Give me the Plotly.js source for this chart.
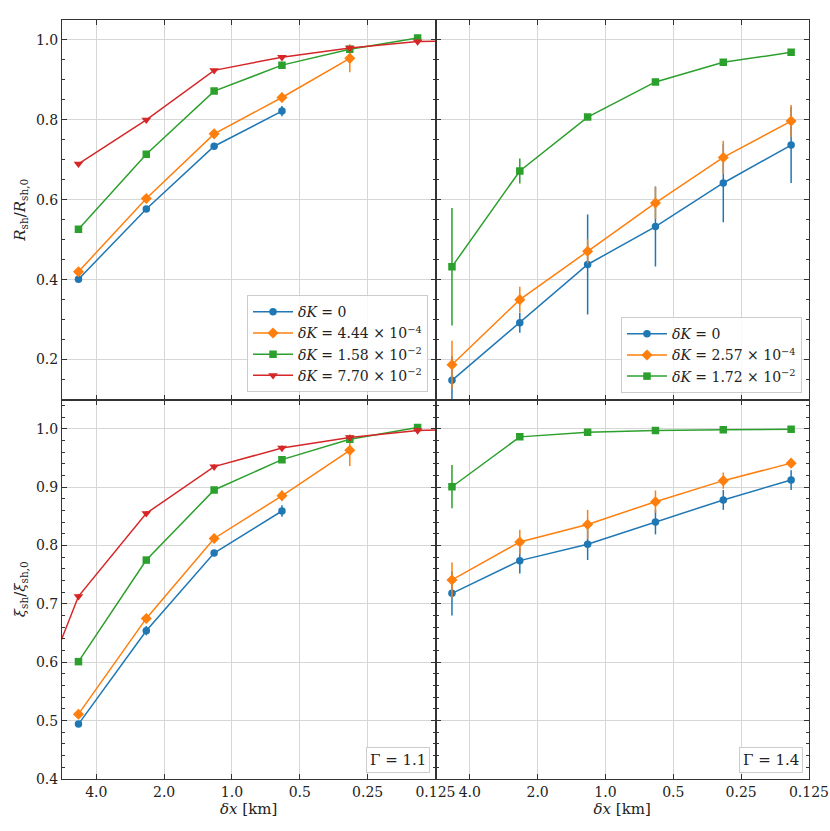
<!DOCTYPE html>
<html>
<head>
<meta charset="utf-8">
<script src="https://cdn.plot.ly/plotly-3.0.1.min.js"></script>
<style>html,body{margin:0;padding:0;background:#fff}#chart{width:830px;height:831px}</style>
</head>
<body>
<div id="chart"></div>
<script>
// ---- data ----
const dx = [4.8, 2.4, 1.2, 0.6, 0.3, 0.15];
const dxRedR = [4.8, 2.4, 1.2, 0.6, 0.3, 0.15, 0.075];
const dxRedXi = [9.6, 4.8, 2.4, 1.2, 0.6, 0.3, 0.15, 0.075];

const xTickVals = [4, 2, 1, 0.5, 0.25, 0.125];
const xTickText = ['4.0', '2.0', '1.0', '0.5', '0.25', '0.125'];

const labels11 = ['<i>δK</i> = 0', '<i>δK</i> = 4.44 × 10<sup>−4</sup>', '<i>δK</i> = 1.58 × 10<sup>−2</sup>', '<i>δK</i> = 7.70 × 10<sup>−2</sup>'];
const labels14 = ['<i>δK</i> = 0', '<i>δK</i> = 2.57 × 10<sup>−4</sup>', '<i>δK</i> = 1.72 × 10<sup>−2</sup>'];

// Gamma = 1.1, R_sh / R_sh,0
const R11_0 = [0.401, 0.577, 0.734, 0.822];
const R11_0e = [0.005, 0.006, 0.008, 0.013];
const R11_1 = [0.420, 0.603, 0.765, 0.856, 0.954];
const R11_1e = [0.006, 0.008, 0.009, 0.012, 0.035];
const R11_2 = [0.526, 0.714, 0.872, 0.937, 0.977, 1.005];
const R11_2e = [0.004, 0.005, 0.005, 0.005, 0.006, 0.008];
const R11_3 = [0.690, 0.800, 0.924, 0.957, 0.980, 0.996, 1.000];
const R11_3e = [0.004, 0.004, 0.004, 0.004, 0.004, 0.006, 0.004];

// Gamma = 1.4, R_sh / R_sh,0
const R14_0 = [0.148, 0.292, 0.438, 0.533, 0.642, 0.737];
const R14_0e = [0.06, 0.025, 0.125, 0.100, 0.098, 0.095];
const R14_1 = [0.187, 0.350, 0.471, 0.592, 0.706, 0.797];
const R14_1e = [0.060, 0.032, 0.030, 0.040, 0.042, 0.040];
const R14_2 = [0.4325, 0.672, 0.807, 0.895, 0.944, 0.969];
const R14_2e = [0.147, 0.031, 0.004, 0.004, 0.004, 0.004];

// Gamma = 1.1, xi_sh / xi_sh,0
const X11_0 = [0.494, 0.654, 0.787, 0.859];
const X11_0e = [0.004, 0.008, 0.005, 0.010];
const X11_1 = [0.511, 0.675, 0.812, 0.885, 0.963];
const X11_1e = [0.005, 0.007, 0.006, 0.009, 0.027];
const X11_2 = [0.601, 0.775, 0.895, 0.947, 0.982, 1.002];
const X11_2e = [0.003, 0.004, 0.004, 0.004, 0.004, 0.006];
const X11_3 = [0.417, 0.713, 0.855, 0.935, 0.967, 0.985, 0.997, 1.000];
const X11_3e = [0.004, 0.004, 0.004, 0.004, 0.004, 0.004, 0.005, 0.004];

// Gamma = 1.4, xi_sh / xi_sh,0
const X14_0 = [0.718, 0.774, 0.802, 0.840, 0.878, 0.912];
const X14_0e = [0.038, 0.022, 0.027, 0.021, 0.017, 0.017];
const X14_1 = [0.741, 0.806, 0.836, 0.875, 0.911, 0.941];
const X14_1e = [0.030, 0.021, 0.025, 0.019, 0.014, 0.006];
const X14_2 = [0.9006, 0.986, 0.994, 0.997, 0.998, 0.999];
const X14_2e = [0.037, 0.003, 0.002, 0.002, 0.002, 0.002];

// ---- styles ----
const colors = ['#1f77b4', '#ff7f0e', '#2ca02c', '#d62728'];
const symbols = ['circle', 'diamond', 'square', 'triangle-down'];
const sizes = [7.5, 8.5, 7.5, 8.5];

function tr(x, y, e, i, xa, ya, name, legend, show) {
  return {
    x: x, y: y, type: 'scatter', mode: 'lines+markers',
    xaxis: xa, yaxis: ya, name: name, legend: legend, showlegend: show,
    line: {color: colors[i], width: 1.5},
    marker: {color: colors[i], symbol: symbols[i], size: sizes[i]},
    error_y: {type: 'data', array: e, visible: true, color: colors[i], thickness: 1.5, width: 0},
    cliponaxis: true
  };
}

const data = [
  tr(dx, R11_0, R11_0e, 0, 'x', 'y', labels11[0], 'legend', true),
  tr(dx, R11_1, R11_1e, 1, 'x', 'y', labels11[1], 'legend', true),
  tr(dx, R11_2, R11_2e, 2, 'x', 'y', labels11[2], 'legend', true),
  tr(dxRedR, R11_3, R11_3e, 3, 'x', 'y', labels11[3], 'legend', true),

  tr(dx, R14_0, R14_0e, 0, 'x2', 'y2', labels14[0], 'legend2', true),
  tr(dx, R14_1, R14_1e, 1, 'x2', 'y2', labels14[1], 'legend2', true),
  tr(dx, R14_2, R14_2e, 2, 'x2', 'y2', labels14[2], 'legend2', true),

  tr(dx, X11_0, X11_0e, 0, 'x3', 'y3', labels11[0], 'legend', false),
  tr(dx, X11_1, X11_1e, 1, 'x3', 'y3', labels11[1], 'legend', false),
  tr(dx, X11_2, X11_2e, 2, 'x3', 'y3', labels11[2], 'legend', false),
  tr(dxRedXi, X11_3, X11_3e, 3, 'x3', 'y3', labels11[3], 'legend', false),

  tr(dx, X14_0, X14_0e, 0, 'x4', 'y4', labels14[0], 'legend2', false),
  tr(dx, X14_1, X14_1e, 1, 'x4', 'y4', labels14[1], 'legend2', false),
  tr(dx, X14_2, X14_2e, 2, 'x4', 'y4', labels14[2], 'legend2', false)
];

const FONT = 'DejaVu Serif';
const frame = '#333333';
const grid = '#d6d6d6';
const xRange = [Math.log10(5.68), Math.log10(0.12495)];

function xax(domain, anchor, labels, title) {
  const a = {
    type: 'log', range: xRange, autorange: false, domain: domain, anchor: anchor,
    tickvals: xTickVals, ticktext: xTickText, showticklabels: labels,
    ticks: 'inside', ticklen: 5, tickwidth: 1, tickcolor: frame,
    showline: true, linecolor: frame, linewidth: 1, mirror: 'ticks',
    showgrid: true, gridcolor: grid, gridwidth: 1, zeroline: false,
    tickfont: {family: FONT, size: 14, color: '#222'}
  };
  if (title) a.title = {text: '<i>δx</i> [km]', font: {family: FONT, size: 15, color: '#222'}, standoff: 2};
  return a;
}
function yax(domain, anchor, range, dtick, mdtick, labels, title) {
  const a = {
    range: range, autorange: false, domain: domain, anchor: anchor,
    dtick: dtick, tick0: 0, tickformat: '.1f', showticklabels: labels,
    ticks: 'inside', ticklen: 5, tickwidth: 1, tickcolor: frame,
    minor: {dtick: mdtick, tick0: 0, ticks: 'inside', ticklen: 3, tickcolor: frame, showgrid: false},
    showline: true, linecolor: frame, linewidth: 1, mirror: 'ticks',
    showgrid: true, gridcolor: grid, gridwidth: 1, zeroline: false,
    tickfont: {family: FONT, size: 14, color: '#222'}
  };
  if (title) a.title = {text: title, font: {family: FONT, size: 15, color: '#222'}, standoff: 6};
  return a;
}

const layout = {
  width: 830, height: 831,
  margin: {l: 62, r: 21, t: 20, b: 52, pad: 0},
  paper_bgcolor: '#fff', plot_bgcolor: '#fff',
  font: {family: FONT, size: 14, color: '#222'},
  xaxis: xax([0, 0.5], 'y', false, false),
  xaxis2: xax([0.5, 1], 'y2', false, false),
  xaxis3: xax([0, 0.5], 'y3', true, true),
  xaxis4: xax([0.5, 1], 'y4', true, true),
  yaxis: yax([0.5, 1], 'x', [0.1, 1.05], 0.2, 0.05, true, '<i>R</i><sub>sh</sub>/<i>R</i><sub>sh,0</sub>'),
  yaxis2: yax([0.5, 1], 'x2', [0.1, 1.05], 0.2, 0.05, false, null),
  yaxis3: yax([0, 0.5], 'x3', [0.4, 1.05], 0.1, 0.02, true, '<i>ξ</i><sub>sh</sub>/<i>ξ</i><sub>sh,0</sub>'),
  yaxis4: yax([0, 0.5], 'x4', [0.4, 1.05], 0.1, 0.02, false, null),
  legend: {
    x: 0.490, y: 0.5097, xanchor: 'right', yanchor: 'bottom',
    bgcolor: 'rgba(255,255,255,0.85)', bordercolor: '#cccccc', borderwidth: 1,
    font: {family: FONT, size: 14, color: '#222'}, tracegroupgap: 0, itemwidth: 40
  },
  legend2: {
    x: 0.9906, y: 0.5084, xanchor: 'right', yanchor: 'bottom',
    bgcolor: 'rgba(255,255,255,0.85)', bordercolor: '#cccccc', borderwidth: 1,
    font: {family: FONT, size: 14, color: '#222'}, tracegroupgap: 0, itemwidth: 40
  },
  annotations: [
    {text: 'Γ = 1.1', xref: 'paper', yref: 'paper', x: 0.4928, y: 0.0075, xanchor: 'right', yanchor: 'bottom',
     showarrow: false, bordercolor: '#cccccc', borderwidth: 1, borderpad: 3, bgcolor: '#fff',
     font: {family: FONT, size: 15, color: '#222'}},
    {text: 'Γ = 1.4', xref: 'paper', yref: 'paper', x: 0.992, y: 0.0075, xanchor: 'right', yanchor: 'bottom',
     showarrow: false, bordercolor: '#cccccc', borderwidth: 1, borderpad: 3, bgcolor: '#fff',
     font: {family: FONT, size: 15, color: '#222'}}
  ]
};

Plotly.newPlot('chart', data, layout, {displayModeBar: false, staticPlot: true});
</script>
</body>
</html>
